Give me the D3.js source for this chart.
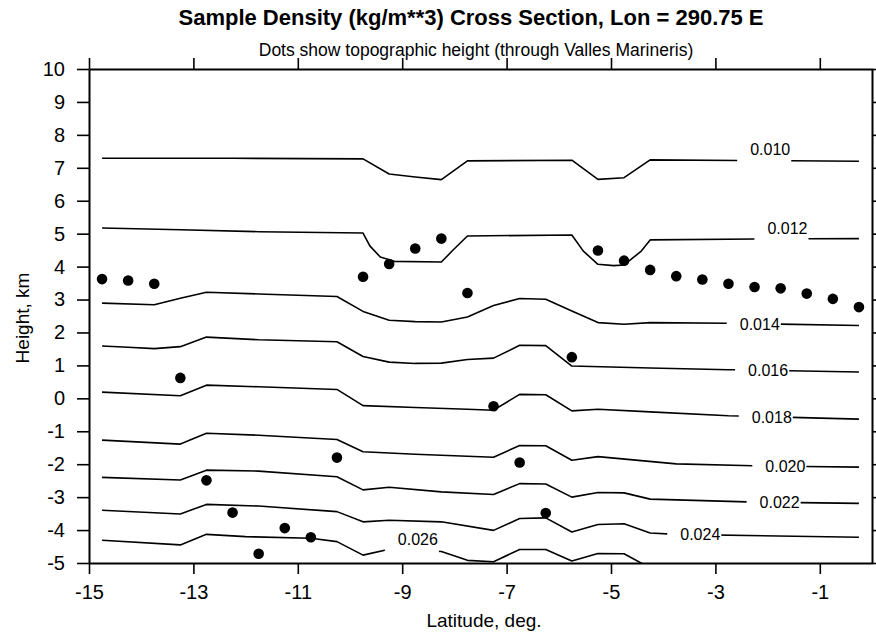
<!DOCTYPE html>
<html><head><meta charset="utf-8">
<script src="https://cdn.jsdelivr.net/npm/d3@7"></script>
<style>
body{margin:0;background:#fff}
svg{display:block}
text{font-family:"Liberation Sans",Arial,Helvetica,sans-serif;fill:#000}
</style>
</head><body>
<svg id="chart" width="876" height="634"></svg>
<script>
// ---------- data ----------
const xTickValues = [-15, -13, -11, -9, -7, -5, -3, -1];
const yTickValues = [-5, -4, -3, -2, -1, 0, 1, 2, 3, 4, 5, 6, 7, 8, 9, 10];

// topographic height dots (latitude, km)
const dotLat = [-14.75,-14.25,-13.75,-13.25,-12.75,-12.25,-11.75,-11.25,-10.75,-10.25,
                -9.75,-9.25,-8.75,-8.25,-7.75,-7.25,-6.75,-6.25,-5.75,-5.25,
                -4.75,-4.25,-3.75,-3.25,-2.75,-2.25,-1.75,-1.25,-0.75,-0.25];
const dotHeight = [3.62,3.58,3.48,0.62,-2.49,-3.47,-4.72,-3.94,-4.22,-1.80,
                   3.69,4.08,4.55,4.85,3.20,-0.24,-1.95,-3.48,1.25,4.49,
                   4.18,3.90,3.71,3.61,3.48,3.38,3.34,3.18,3.02,2.77];

// density contour levels and their label placement
const levelLabels = ["0.010","0.012","0.014","0.016","0.018","0.020","0.022","0.024","0.026"];
const labelLat    = [-1.95, -1.62, -2.15, -1.99, -1.92, -1.66, -1.77, -3.29, -8.70];
const labelAbove  = [true, true, false, false, false, false, false, false, true];

// contour polylines: [latitude, height km]
const contour010 = [[-14.75,7.29],[-12.25,7.29],[-9.75,7.27],[-9.25,6.81],[-8.75,6.72],[-8.25,6.64],[-7.75,7.21],
  [-5.75,7.23],[-5.25,6.65],[-4.75,6.70],[-4.25,7.24],[-2.25,7.22],[-0.25,7.20]];
const contour012 = [[-14.75,5.17],[-13.25,5.12],[-11.75,5.06],[-9.75,5.02],[-9.62,4.63],[-9.42,4.29],[-9.15,4.16],
  [-8.25,4.14],[-8.02,4.51],[-7.75,4.93],[-5.75,4.96],[-5.53,4.47],[-5.25,4.07],[-4.95,4.03],[-4.75,4.05],
  [-4.42,4.47],[-4.25,4.81],[-2.25,4.84],[-0.25,4.85]];
const contour014 = [[-14.75,2.89],[-13.75,2.84],[-13.25,3.04],[-12.75,3.22],[-11.75,3.17],[-10.25,3.09],[-9.75,2.64],
  [-9.25,2.37],[-8.75,2.33],[-8.25,2.32],[-7.75,2.47],[-7.25,2.82],[-6.75,3.03],[-6.25,3.01],[-5.75,2.65],
  [-5.25,2.30],[-4.75,2.25],[-4.25,2.30],[-2.75,2.28],[-0.25,2.21]];
const contour016 = [[-14.75,1.59],[-14.25,1.55],[-13.75,1.51],[-13.25,1.57],[-12.75,1.86],[-11.75,1.78],[-10.25,1.72],
  [-9.75,1.27],[-9.25,1.10],[-8.75,1.06],[-8.25,1.07],[-7.75,1.18],[-7.25,1.22],[-6.75,1.61],[-6.25,1.60],
  [-5.75,0.98],[-4.25,0.92],[-2.75,0.87],[-0.25,0.80]];
const contour018 = [[-14.75,0.19],[-13.25,0.08],[-12.75,0.40],[-11.75,0.35],[-10.25,0.27],[-9.75,-0.22],[-8.75,-0.28],
  [-7.75,-0.33],[-7.25,-0.36],[-6.75,0.12],[-6.25,0.11],[-5.75,-0.38],[-5.25,-0.33],[-4.25,-0.41],[-2.75,-0.53],[-0.25,-0.63]];
const contour020 = [[-14.75,-1.27],[-13.25,-1.39],[-12.75,-1.06],[-11.75,-1.12],[-10.25,-1.25],[-9.75,-1.62],[-8.75,-1.70],
  [-7.25,-1.79],[-6.75,-1.43],[-6.25,-1.44],[-5.75,-1.88],[-5.25,-1.77],[-3.75,-1.99],[-2.25,-2.05],[-0.25,-2.09]];
const contour022 = [[-14.75,-2.40],[-13.25,-2.48],[-12.75,-2.18],[-11.75,-2.21],[-10.25,-2.38],[-9.75,-2.78],[-9.25,-2.70],
  [-8.25,-2.84],[-7.25,-2.92],[-6.75,-2.59],[-6.25,-2.60],[-5.75,-3.00],[-5.25,-2.86],[-4.75,-2.87],[-4.25,-3.06],
  [-2.25,-3.15],[-0.25,-3.19]];
const contour024 = [[-14.75,-3.40],[-13.25,-3.51],[-12.75,-3.22],[-11.75,-3.27],[-10.25,-3.44],[-9.75,-3.75],[-9.25,-3.70],
  [-8.25,-3.75],[-7.25,-4.01],[-6.75,-3.65],[-6.25,-3.63],[-5.75,-4.06],[-5.25,-3.83],[-4.75,-3.81],[-4.25,-4.09],
  [-3.75,-4.13],[-0.25,-4.22]];
const contour026 = [[-14.75,-4.31],[-13.25,-4.45],[-12.75,-4.13],[-12.00,-4.20],[-10.75,-4.25],[-10.25,-4.35],[-9.75,-4.76],
  [-9.25,-4.58],[-8.75,-4.61],[-8.25,-4.65],[-7.75,-4.92],[-7.25,-4.96],[-6.75,-4.59],[-6.25,-4.59],[-5.75,-4.94],
  [-5.25,-4.71],[-4.75,-4.72],[-4.25,-5.15]];
const contours = [contour010, contour012, contour014, contour016, contour018, contour020, contour022, contour024, contour026];

// ---------- drawing ----------
const svg = d3.select("#chart");
const x = d3.scaleLinear().domain([-15, 0]).range([89, 872]);
const y = d3.scaleLinear().domain([-5, 10]).range([563, 69]);
const [x0, x1] = x.range();
const [yb, yt] = y.range();

svg.append("rect").attr("width", 876).attr("height", 634).attr("fill", "#fff");

// titles
svg.append("text").attr("x", 471).attr("y", 25).attr("text-anchor", "middle")
  .attr("font-size", 22).attr("font-weight", "bold")
  .text("Sample Density (kg/m**3) Cross Section, Lon = 290.75 E");
svg.append("text").attr("x", 476).attr("y", 56).attr("text-anchor", "middle")
  .attr("font-size", 17.5)
  .text("Dots show topographic height (through Valles Marineris)");

// contour labels first (to measure widths)
const line = d3.line().x(d => x(d[0])).y(d => y(d[1]));
function interp(pts, lat) {
  for (let i = 0; i < pts.length - 1; i++) {
    const a = pts[i], b = pts[i + 1];
    if (lat >= a[0] && lat <= b[0]) return a[1] + (b[1] - a[1]) * (lat - a[0]) / (b[0] - a[0]);
  }
  return pts[pts.length - 1][1];
}
const defs = svg.append("defs");
const gC = svg.append("g");
const gL = svg.append("g");

contours.forEach((pts, i) => {
  const cx = x(labelLat[i]);
  const ly = y(interp(pts, labelLat[i])) + (labelAbove[i] ? -11 : 0);
  const t = gL.append("text").attr("x", cx).attr("y", ly).attr("dy", "0.36em")
    .attr("text-anchor", "middle").attr("font-size", 16).text(levelLabels[i]);
  const w = t.node().getComputedTextLength();
  const gs = cx - w / 2 - 13, ge = cx + w / 2 + 1;
  const cp = defs.append("clipPath").attr("id", "cp" + i);
  cp.append("rect").attr("x", x0).attr("y", yt).attr("width", gs - x0).attr("height", yb - yt);
  cp.append("rect").attr("x", ge).attr("y", yt).attr("width", x1 - ge).attr("height", yb - yt);
  gC.append("path").attr("d", line(pts)).attr("fill", "none").attr("stroke", "#000")
    .attr("stroke-width", 1.6).attr("stroke-linejoin", "round").attr("clip-path", "url(#cp" + i + ")");
});

// dots
svg.append("g").selectAll("circle").data(dotLat).join("circle")
  .attr("cx", d => x(d)).attr("cy", (d, i) => y(dotHeight[i])).attr("r", 5.3).attr("fill", "#000");

// axes
const fmt = d => String(d);
const gB = svg.append("g").attr("transform", `translate(0,${yb})`)
  .call(d3.axisBottom(x).tickValues(xTickValues).tickSize(11).tickSizeOuter(0).tickPadding(11).tickFormat(fmt));
const gT = svg.append("g").attr("transform", `translate(0,${yt})`)
  .call(d3.axisTop(x).tickValues(xTickValues).tickSize(11).tickSizeOuter(0).tickFormat(""));
const gLft = svg.append("g").attr("transform", `translate(${x0},0)`)
  .call(d3.axisLeft(y).tickValues(yTickValues).tickSize(12).tickSizeOuter(0).tickPadding(12).tickFormat(fmt));
const gR = svg.append("g").attr("transform", `translate(${x1},0)`)
  .call(d3.axisRight(y).tickValues(yTickValues).tickSize(7).tickSizeOuter(0).tickFormat(""));
[gB, gT, gLft, gR].forEach(g => {
  g.select(".domain").attr("stroke", "#000").attr("stroke-width", 2);
  g.selectAll(".tick line").attr("stroke", "#000").attr("stroke-width", 1.6);
  g.selectAll(".tick text").attr("font-size", 20).attr("font-family", '"Liberation Sans",Arial,sans-serif').attr("fill", "#000");
});

// axis titles
svg.append("text").attr("x", 484).attr("y", 627).attr("text-anchor", "middle")
  .attr("font-size", 19).text("Latitude, deg.");
svg.append("text").attr("transform", "translate(29,318) rotate(-90)").attr("text-anchor", "middle")
  .attr("font-size", 19).text("Height, km");
</script>
</body></html>
